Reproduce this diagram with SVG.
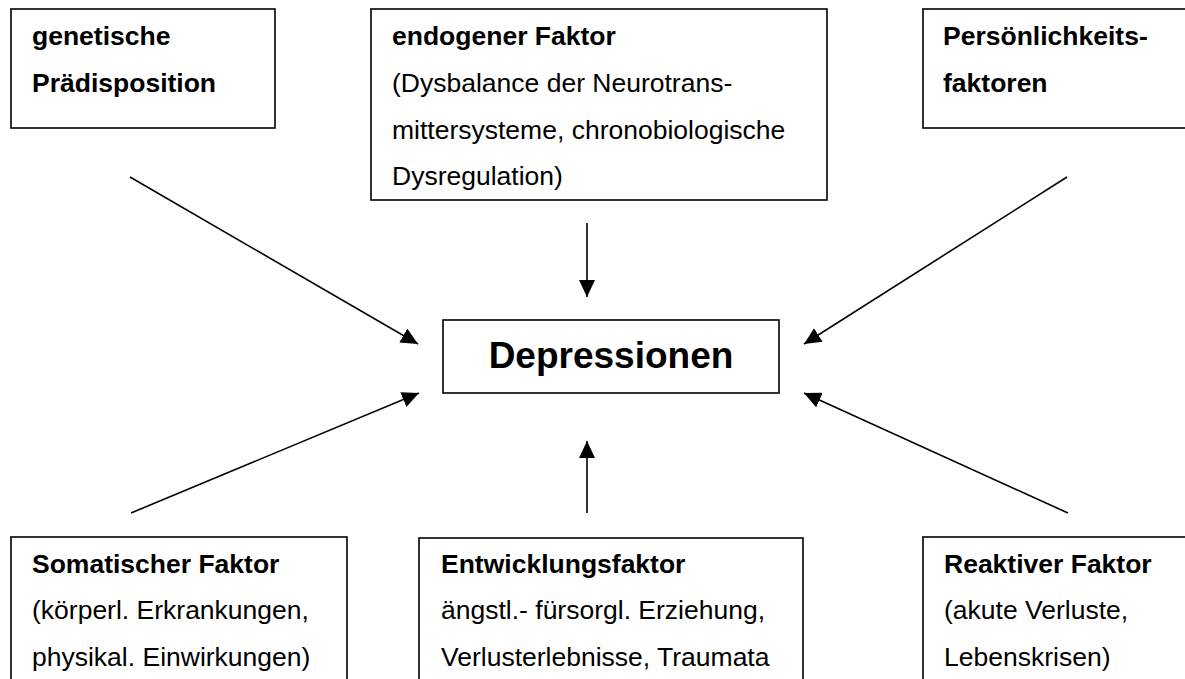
<svg xmlns="http://www.w3.org/2000/svg" width="1185" height="679" viewBox="0 0 1185 679">
<style>
.box{fill:#fff;stroke:#000;stroke-width:1.6}
.t{font-family:"Liberation Sans",Arial,sans-serif;font-size:26.5px;fill:#000}
.b{font-weight:bold}
.big{font-family:"Liberation Sans",Arial,sans-serif;font-size:37px;font-weight:bold;fill:#000}
.c{stroke:#000;stroke-width:1.6;fill:none;marker-end:url(#ah)}
</style>
<defs>
<marker id="ah" markerUnits="userSpaceOnUse" markerWidth="18" markerHeight="16" refX="17" refY="8" orient="auto" viewBox="0 0 18 16">
<path d="M0,0 L17,8 L0,16 Z" fill="#000"/>
</marker>
</defs>
<rect width="1185" height="679" fill="#fff"/>
<g id="n-genetisch">
<rect class="box" x="11" y="9" width="264" height="119"/>
<text class="t b" x="32" y="45">genetische</text>
<text class="t b" x="32" y="91.5">Prädisposition</text>
</g>
<g id="n-endogen">
<rect class="box" x="371" y="9" width="456" height="191"/>
<text class="t b" x="392" y="45">endogener Faktor</text>
<text class="t" x="392" y="91.5">(Dysbalance der Neurotrans-</text>
<text class="t" x="392" y="138.5">mittersysteme, chronobiologische</text>
<text class="t" x="392" y="185">Dysregulation)</text>
</g>
<g id="n-persoenlichkeit">
<rect class="box" x="923" y="9" width="300" height="119"/>
<text class="t b" x="943" y="45">Persönlichkeits-</text>
<text class="t b" x="943" y="91.5">faktoren</text>
</g>
<g id="n-depressionen">
<rect class="box" x="443" y="320" width="336" height="73"/>
<text class="big" x="611" y="368" text-anchor="middle">Depressionen</text>
</g>
<g id="n-somatisch">
<rect class="box" x="11" y="537" width="336" height="200"/>
<text class="t b" x="32" y="572.5">Somatischer Faktor</text>
<text class="t" x="32" y="619">(körperl. Erkrankungen,</text>
<text class="t" x="32" y="665.5">physikal. Einwirkungen)</text>
</g>
<g id="n-entwicklung">
<rect class="box" x="419" y="538" width="384" height="200"/>
<text class="t b" x="441" y="572.5">Entwicklungsfaktor</text>
<text class="t" x="441" y="619">ängstl.- fürsorgl. Erziehung,</text>
<text class="t" x="441" y="665.5">Verlusterlebnisse, Traumata</text>
</g>
<g id="n-reaktiv">
<rect class="box" x="923" y="537" width="300" height="200"/>
<text class="t b" x="944" y="572.5">Reaktiver Faktor</text>
<text class="t" x="944" y="619">(akute Verluste,</text>
<text class="t" x="944" y="665.5">Lebenskrisen)</text>
</g>
<g id="connectors">
<line class="c" x1="130" y1="177" x2="418" y2="344"/>
<line class="c" x1="587" y1="223" x2="587" y2="297"/>
<line class="c" x1="1067" y1="177" x2="804" y2="344"/>
<line class="c" x1="131" y1="513" x2="419" y2="393"/>
<line class="c" x1="587" y1="513" x2="587" y2="441"/>
<line class="c" x1="1068" y1="513" x2="804" y2="393"/>
</g>
</svg>
